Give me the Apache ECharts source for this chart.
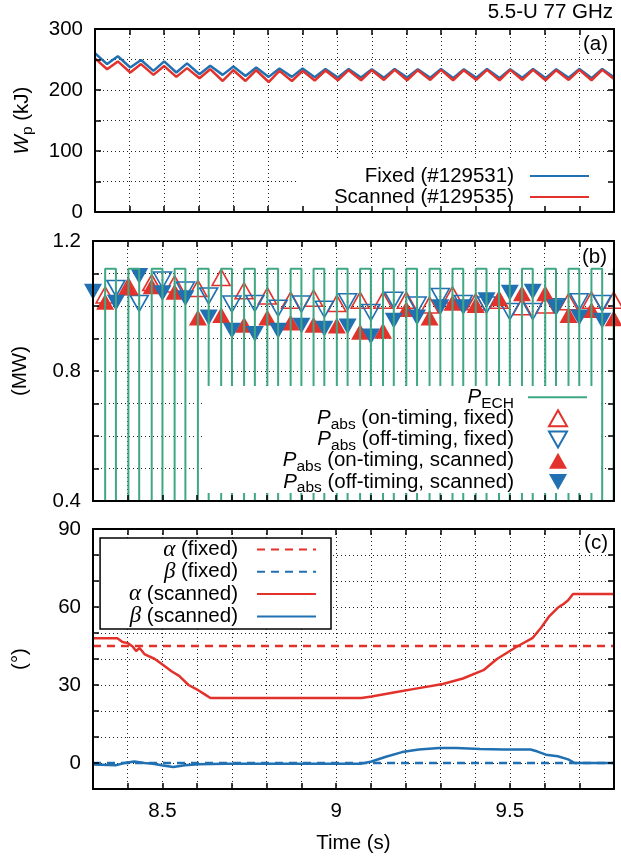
<!DOCTYPE html>
<html><head><meta charset="utf-8">
<script src="https://cdn.jsdelivr.net/npm/echarts@6/dist/echarts.min.js"></script>
<style>html,body{margin:0;padding:0;background:#fff}#c{width:621px;height:856px}</style>
</head><body><div id="c"></div><script>
// ---------------- data ----------------
const xMin = 8.3, xMax = 9.8;
const xTickLabels = [8.5, 9, 9.5];
const wpTickLabels = [0, 100, 200, 300];
const pTickLabels = [0.4, 0.8, 1.2];
const angTickLabels = [0, 30, 60, 90];

// ECH modulation edges (s)
const echOn  = [8.335, 8.402, 8.469, 8.535, 8.602, 8.669, 8.735, 8.802, 8.869, 8.935, 9.002, 9.069,
                9.135, 9.202, 9.269, 9.335, 9.402, 9.469, 9.535, 9.602, 9.669, 9.735, 9.799];
const echOff = [8.300, 8.366, 8.433, 8.500, 8.566, 8.633, 8.700, 8.766, 8.833, 8.900, 8.966, 9.033,
                9.100, 9.166, 9.233, 9.300, 9.366, 9.433, 9.500, 9.566, 9.633, 9.700, 9.766];
const pechHigh = 1.115, pechLow = 0;

// (a) stored energy (kJ)
const wpTime = [8.300,
  8.335, 8.366, 8.402, 8.433, 8.469, 8.500, 8.535, 8.566, 8.602, 8.633, 8.669, 8.700,
  8.735, 8.766, 8.802, 8.833, 8.869, 8.900, 8.935, 8.966, 9.002, 9.033, 9.069, 9.100,
  9.135, 9.166, 9.202, 9.233, 9.269, 9.300, 9.335, 9.366, 9.402, 9.433, 9.469, 9.500,
  9.535, 9.566, 9.602, 9.633, 9.669, 9.700, 9.735, 9.766, 9.800];
const wpFixed = [260.3,
  242.5, 255.3, 236.9, 249.2, 231.4, 246.9, 228.7, 243.6, 225.9, 239.7, 224.8, 238.6,
  223.1, 236.9, 221.5, 235.3, 221.5, 235.3, 221.0, 234.5, 220.5, 234.5, 220.5, 234.0,
  220.0, 234.5, 220.5, 234.0, 220.0, 234.5, 219.5, 234.0, 220.0, 234.5, 219.5, 234.0,
  220.0, 234.5, 219.5, 234.0, 220.0, 234.5, 219.5, 234.5, 221.0];
const wpScanned = [251.9,
  234.1, 246.9, 228.7, 242.5, 224.8, 239.2, 221.5, 235.9, 219.2, 234.1, 214.8, 232.4,
  214.8, 232.4, 213.1, 231.4, 214.8, 231.4, 215.5, 232.0, 216.0, 232.5, 216.0, 232.5,
  216.5, 233.0, 216.0, 232.5, 216.5, 233.0, 216.0, 232.5, 216.5, 233.0, 216.0, 233.0,
  216.5, 233.0, 216.0, 232.5, 216.5, 233.0, 216.0, 233.0, 218.0];

// (b) absorbed power (MW): on-timing at echOn, off-timing at echOff
const onFixed   = [1.034, 1.060, 1.072, 1.068, 1.054, 1.088, 1.047, 1.031, 1.018, 1.024, 1.008, 1.018,
                   1.018, 1.018, 1.003, 1.034, 1.013, 1.018, 0.998, 1.003, 1.013, 1.018, 1.018];
const offFixed  = [null, 1.054, 1.008, 1.080, 1.049, 1.031, 1.006, 1.008, 0.993, 1.006, 0.990, 1.013,
                   0.980, 1.018, 1.003, 1.029, 1.008, 1.003, 0.983, 0.983, 0.998, 1.013, 1.008];
const onScanned = [1.013, 1.057, 1.061, 1.044, 0.965, 0.972, 0.942, 0.965, 0.949, 0.942, 0.940, 0.921,
                   0.924, 0.991, 0.965, 1.010, 1.003, 1.024, 1.039, 1.039, 0.972, 0.988, 0.962];
const offScanned= [1.044, 1.010, 1.092, 1.039, 1.024, 0.965, 0.924, 0.914, 0.924, 0.939, 0.930, 0.937,
                   0.906, 0.955, 0.965, 0.996, 0.996, 1.018, 1.041, 1.044, 0.996, 0.965, 0.955];

// (c) injection angles (deg)
const fixedTime = [8.3, 9.8];
const alphaFixed = [45, 45];
const betaFixed = [0, 0];
const alphaTime = [8.300, 8.370, 8.385, 8.400, 8.414, 8.424, 8.434, 8.448, 8.478, 8.502, 8.526, 8.548,
  8.575, 8.604, 8.624, 8.638, 9.073, 9.102, 9.170, 9.238, 9.307, 9.365, 9.424, 9.463, 9.521, 9.565,
  9.590, 9.614, 9.638, 9.653, 9.668, 9.682, 9.800];
const alphaScanned = [48, 48, 46.5, 46.1, 44.8, 43.1, 44.2, 41.9, 40.0, 37.7, 35.3, 33.5,
  30.0, 27.9, 26.2, 25.0, 25.0, 25.6, 27.2, 28.8, 30.4, 32.5, 35.7, 40.0, 44.8, 48.0,
  52.0, 56.5, 59.7, 61.0, 62.6, 65.0, 65.0];
const betaTime = [8.300, 8.365, 8.390, 8.419, 8.448, 8.473, 8.497, 8.531, 8.565, 8.604, 8.682, 9.073,
  9.102, 9.141, 9.190, 9.238, 9.297, 9.346, 9.414, 9.482, 9.560, 9.580, 9.604, 9.638, 9.668, 9.687, 9.800];
const betaScanned = [-0.6, -0.9, 0, 0.6, 0, -0.25, -0.9, -1.5, -0.9, -0.5, -0.25, -0.25,
  0.6, 2.3, 4.2, 5.2, 5.8, 5.8, 5.4, 5.2, 5.2, 4.4, 3.2, 2.6, 1.4, 0, 0];

// ---------------- styling ----------------
const FONT = '"Liberation Sans", Arial, Helvetica, sans-serif';
const FS = 20.5;
const BLUE = '#2170b2', RED = '#e3322b', GREEN = '#3fa882';
const zip = (t, v) => t.map((x, i) => [x, v[i]]);
const pick = (arr) => (v) => { const m = arr.find(a => Math.abs(a - v) < 1e-6); return m === undefined ? '' : String(m); };

const pechData = [];
echOn.forEach((on, k) => {
  const off = k + 1 < echOff.length ? echOff[k + 1] : xMax;
  pechData.push([on, pechLow], [on, pechHigh], [off, pechHigh], [off, pechLow]);
});

const grids = [
  {left: 93, right: 7, top: 29, height: 183},
  {left: 93, right: 7, top: 241, height: 260},
  {left: 93, right: 7, top: 529, height: 260}
];
const gridLine = {show: true, lineStyle: {type: [1, 3], color: '#222', width: 1}};
const tick = {inside: true, length: 6, lineStyle: {color: '#000', width: 1.5}};
const axLine = {show: true, onZero: false, lineStyle: {color: '#000', width: 2}};
const yDefs = [
  {min: 0, max: 300, interval: 50, labels: wpTickLabels, name: '{i|W}{s|p} (kJ)'},
  {min: 0.4, max: 1.2, interval: 0.1, labels: pTickLabels, name: '(MW)'},
  {min: -10, max: 90, interval: 10, labels: angTickLabels, name: '(°)'}
];

const xAxes = [], yAxes = [];
[0, 1, 2].forEach(i => {
  xAxes.push({type: 'value', gridIndex: i, min: xMin, max: xMax, interval: 0.1,
    axisLine: {show: false}, axisTick: {show: false}, splitLine: gridLine,
    axisLabel: i === 2 ? {show: true, formatter: pick(xTickLabels), color: '#000', fontSize: FS, fontFamily: FONT, margin: 12} : {show: false},
    name: i === 2 ? 'Time (s)' : '', nameLocation: 'middle', nameGap: 44,
    nameTextStyle: {fontSize: FS, fontFamily: FONT, color: '#000'}});
  const d = yDefs[i];
  yAxes.push({type: 'value', gridIndex: i, min: d.min, max: d.max, interval: d.interval,
    axisLine: {show: false}, axisTick: {show: false}, splitLine: gridLine,
    axisLabel: {formatter: pick(d.labels), color: '#000', fontSize: FS, fontFamily: FONT, margin: 12},
    name: d.name, nameLocation: 'middle', nameGap: 62,
    nameTextStyle: {fontSize: FS, fontFamily: FONT, color: '#000',
      rich: {i: {fontStyle: 'italic', fontSize: FS, fontFamily: FONT, lineHeight: 22},
             s: {fontSize: 15.5, fontFamily: FONT, lineHeight: 10, padding: [12, 0, 0, 0]}}}});
});
// frame: border + inward ticks on all four sides, drawn above the legends
[0, 1, 2].forEach(i => {
  ['bottom', 'top'].forEach(pos => xAxes.push({type: 'value', gridIndex: i, position: pos, min: xMin, max: xMax, interval: 0.1, z: 10,
    axisLine: axLine, axisTick: tick, splitLine: {show: false}, axisLabel: {show: false}}));
  const d = yDefs[i];
  ['left', 'right'].forEach(pos => yAxes.push({type: 'value', gridIndex: i, position: pos, min: d.min, max: d.max, interval: d.interval, z: 10,
    axisLine: axLine, axisTick: tick, splitLine: {show: false}, axisLabel: {show: false}}));
});

const richLeg = {
  P: {fontStyle: 'italic', fontSize: FS, fontFamily: FONT, lineHeight: 22},
  s: {fontSize: 15.5, fontFamily: FONT, lineHeight: 10, padding: [12, 0, 0, 0]},
  g: {fontStyle: 'italic', fontSize: 23, fontFamily: '"Liberation Serif", "Times New Roman", serif', lineHeight: 22}
};
const legText = (pad) => ({fontSize: FS, fontFamily: FONT, color: '#000', lineHeight: 22, padding: [0, pad, 0, 0], rich: richLeg});

const names = {
  wf: 'Fixed (#129531)', ws: 'Scanned (#129535)',
  pe: 'P_ECH', onf: 'P_abs (on-timing, fixed)', offf: 'P_abs (off-timing, fixed)',
  ons: 'P_abs (on-timing, scanned)', offs: 'P_abs (off-timing, scanned)',
  af: 'α (fixed)', bf: 'β (fixed)', as: 'α (scanned)', bs: 'β (scanned)'
};
const legFmt = (n) => {
  if (n === 'P_ECH') return '{P|P}{s|ECH}';
  if (n.indexOf('P_abs') === 0) return '{P|P}{s|abs}' + n.slice(5);
  if (n[0] === 'α' || n[0] === 'β') return '{g|' + n[0] + '}' + n.slice(1);
  return n;
};
const lineItem = (n) => ({name: n, itemStyle: {opacity: 0}});
const UP = 'path://M9,0L18,16L0,16Z';
const DOWN = 'path://M0,0L18,0L9,16Z';
const openStyle = (c) => ({color: 'rgba(255,255,255,0)', borderColor: c, borderWidth: 1.6, opacity: 1});

const option = {
  animation: false,
  backgroundColor: '#fff',
  grid: grids,
  xAxis: xAxes,
  yAxis: yAxes,
  title: [
    {text: '5.5-U 77 GHz', right: 8, top: 2, padding: 0, textStyle: {fontSize: FS, fontFamily: FONT, color: '#000', fontWeight: 'normal'}},
    {text: '(a)', right: 13, top: 34, padding: 0, textStyle: {fontSize: FS, fontFamily: FONT, color: '#000', fontWeight: 'normal'}},
    {text: '(b)', right: 14, top: 247, padding: 0, textStyle: {fontSize: FS, fontFamily: FONT, color: '#000', fontWeight: 'normal'}},
    {text: '(c)', right: 13, top: 533, padding: 0, textStyle: {fontSize: FS, fontFamily: FONT, color: '#000', fontWeight: 'normal'}}
  ],
  legend: [
    {data: [lineItem(names.wf), lineItem(names.ws)], orient: 'vertical', align: 'right', right: 8, top: 159,
     itemWidth: 59, itemHeight: 14, itemGap: -1, padding: [6, 23, 3, 35], backgroundColor: '#fff',
     textStyle: legText(11), formatter: legFmt},
    {data: [lineItem(names.pe)], orient: 'vertical', align: 'right', right: 33, top: 383.3, z: 5,
     itemWidth: 59, itemHeight: 17, padding: 0,
     textStyle: legText(9), formatter: legFmt},
    {data: [{name: names.onf, icon: UP}, {name: names.offf, icon: DOWN}, {name: names.ons, icon: UP}, {name: names.offs, icon: DOWN}],
     orient: 'vertical', align: 'right', right: 21, top: 386, z: 4,
     itemWidth: 18, itemHeight: 16, itemGap: -6.8, padding: [18.3, 32, -3, 78], backgroundColor: '#fff',
     textStyle: legText(30), formatter: legFmt},
    {data: [lineItem(names.af), lineItem(names.bf), lineItem(names.as), lineItem(names.bs)], orient: 'vertical', align: 'right', right: 290, top: 538,
     itemWidth: 59, itemHeight: 14, itemGap: -0.7, padding: [0, 14, 1, 29], backgroundColor: '#fff',
     borderColor: '#000', borderWidth: 1.5,
     textStyle: legText(14), formatter: legFmt}
  ],
  series: [
    {name: names.wf, type: 'line', xAxisIndex: 0, yAxisIndex: 0, data: zip(wpTime, wpFixed), symbol: 'none',
     lineStyle: {color: BLUE, width: 2.5}, itemStyle: {color: BLUE}},
    {name: names.ws, type: 'line', xAxisIndex: 0, yAxisIndex: 0, data: zip(wpTime, wpScanned), symbol: 'none',
     lineStyle: {color: RED, width: 2.5}, itemStyle: {color: RED}},

    {name: names.pe, type: 'line', xAxisIndex: 1, yAxisIndex: 1, data: pechData, symbol: 'none',
     lineStyle: {color: GREEN, width: 2}, itemStyle: {color: GREEN}},
    {name: names.onf, type: 'scatter', xAxisIndex: 1, yAxisIndex: 1, data: zip(echOn, onFixed).filter(p => p[1] !== null),
     symbol: 'triangle', symbolSize: [18, 16], itemStyle: openStyle(RED)},
    {name: 'onFixedDot', type: 'scatter', xAxisIndex: 1, yAxisIndex: 1, data: zip(echOn, onFixed).filter(p => p[1] !== null),
     symbol: 'circle', symbolSize: 2, itemStyle: {color: RED, opacity: 1}},
    {name: names.offf, type: 'scatter', xAxisIndex: 1, yAxisIndex: 1, data: zip(echOff, offFixed).filter(p => p[1] !== null),
     symbol: 'triangle', symbolRotate: 180, symbolSize: [18, 16], itemStyle: openStyle(BLUE)},
    {name: 'offFixedDot', type: 'scatter', xAxisIndex: 1, yAxisIndex: 1, data: zip(echOff, offFixed).filter(p => p[1] !== null),
     symbol: 'circle', symbolSize: 2, itemStyle: {color: BLUE, opacity: 1}},
    {name: names.ons, type: 'scatter', xAxisIndex: 1, yAxisIndex: 1, data: zip(echOn, onScanned),
     symbol: 'triangle', symbolSize: [18, 16], itemStyle: {color: RED, opacity: 1}},
    {name: names.offs, type: 'scatter', xAxisIndex: 1, yAxisIndex: 1, data: zip(echOff, offScanned),
     symbol: 'triangle', symbolRotate: 180, symbolSize: [18, 16], itemStyle: {color: BLUE, opacity: 1}},

    {name: names.af, type: 'line', xAxisIndex: 2, yAxisIndex: 2, data: zip(fixedTime, alphaFixed), symbol: 'none',
     lineStyle: {color: RED, width: 2.5, type: [8, 6]}, itemStyle: {color: RED}},
    {name: names.bf, type: 'line', xAxisIndex: 2, yAxisIndex: 2, data: zip(fixedTime, betaFixed), symbol: 'none',
     lineStyle: {color: BLUE, width: 2.5, type: [8, 6]}, itemStyle: {color: BLUE}},
    {name: names.as, type: 'line', xAxisIndex: 2, yAxisIndex: 2, data: zip(alphaTime, alphaScanned), symbol: 'none',
     lineStyle: {color: RED, width: 2.5}, itemStyle: {color: RED}},
    {name: names.bs, type: 'line', xAxisIndex: 2, yAxisIndex: 2, data: zip(betaTime, betaScanned), symbol: 'none',
     lineStyle: {color: BLUE, width: 2.5}, itemStyle: {color: BLUE}}
  ]
};
const chart = echarts.init(document.getElementById('c'), null, {renderer: 'canvas'});
chart.setOption(option);
</script></body></html>
